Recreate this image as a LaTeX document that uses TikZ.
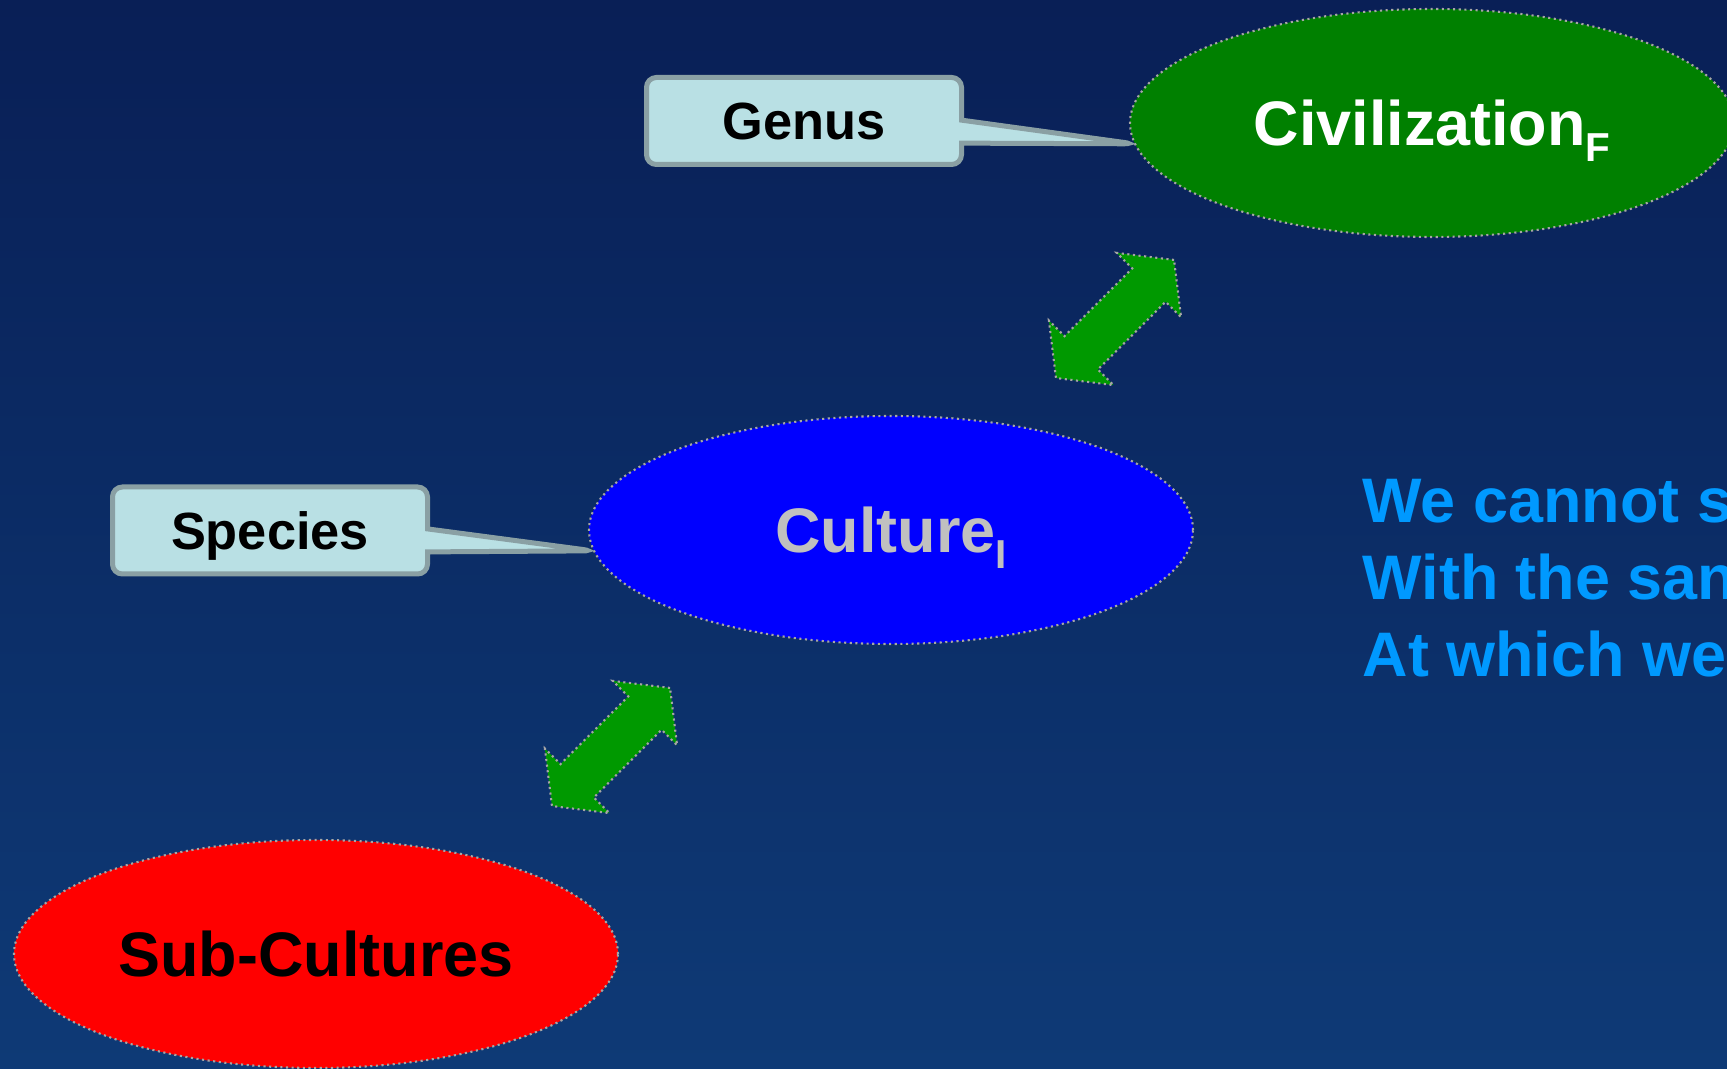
\documentclass[tikz,border=0pt]{standalone}
\usepackage{fontspec}
\setmainfont{Liberation Sans}
\usetikzlibrary{shapes.geometric, shapes.callouts, shapes.arrows}

\definecolor{bgtop}{RGB}{9,31,86}
\definecolor{bgbottom}{RGB}{14,58,118}
\definecolor{tagfill}{RGB}{185,224,228}
\definecolor{tagedge}{RGB}{138,160,164}
\definecolor{civgreen}{RGB}{0,128,0}
\definecolor{arrowgreen}{RGB}{0,153,0}
\definecolor{quoteblue}{RGB}{0,153,255}
\definecolor{culturegray}{RGB}{192,192,192}

\newcommand{\lowsub}[1]{\raisebox{-0.25em}{\fontsize{11.5}{12}\selectfont #1}}

\begin{document}
\begin{tikzpicture}[
        big/.style = {font = \fontsize{17.9}{21.8}\selectfont\bfseries},
        level/.style = {ellipse, draw = gray!70, densely dotted, line width = 0.6pt, minimum width = 6.04cm, minimum height = 2.28cm, text height = 0.45cm, text depth = 0pt, big},
        tag/.style = {rectangle callout, rounded corners = 2.8pt, fill = tagfill, draw = tagedge, line width = 0.05cm, minimum width = 3.15cm, minimum height = 0.87cm, callout pointer width = 0.23cm, text height = 0.376cm, text depth = 0pt, font = \fontsize{14.9}{18}\selectfont\bfseries},
        link/.style = {double arrow, rotate = 45, fill = arrowgreen, draw = gray!70, densely dotted, line width = 0.6pt, minimum width = 0.89cm, minimum height = 1.67cm, double arrow head extend = 0.22cm, double arrow tip angle = 104, inner xsep = 0pt, inner ysep = 0.225cm},
        quote/.style = {anchor = base west, inner sep = 0pt, text = quoteblue, big}
    ]
        \clip (0,0) rectangle (17.27,10.69);
        \shade[top color = bgtop, bottom color = bgbottom] (0,0) rectangle (17.27,10.69);

        \node[level, fill = civgreen, text = white] (civ) at (14.32,9.46) {Civilization\lowsub{F}};
        \node[level, fill = blue, text = culturegray] (cult) at (8.91,5.39) {Culture\lowsub{I}};
        \node[level, fill = red, text = black] (sub) at (3.16,1.15) {Sub-Cultures};

        \node[tag, callout absolute pointer = {(civ.184)}] (genus) at (8.04,9.48) {Genus};
        \node[tag, callout absolute pointer = {(cult.184)}] (species) at (2.70,5.385) {Species};

        \node[link] (uplink) at (11.15,7.50) {};
        \node[link] (lowlink) at (6.11,3.22) {};

        \node[quote] (q1) at (13.62,5.46) {We cannot s};
        \node[quote] (q2) at (13.62,4.69) {With the san};
        \node[quote] (q3) at (13.62,3.92) {At which we};
    \end{tikzpicture}
\end{document}
